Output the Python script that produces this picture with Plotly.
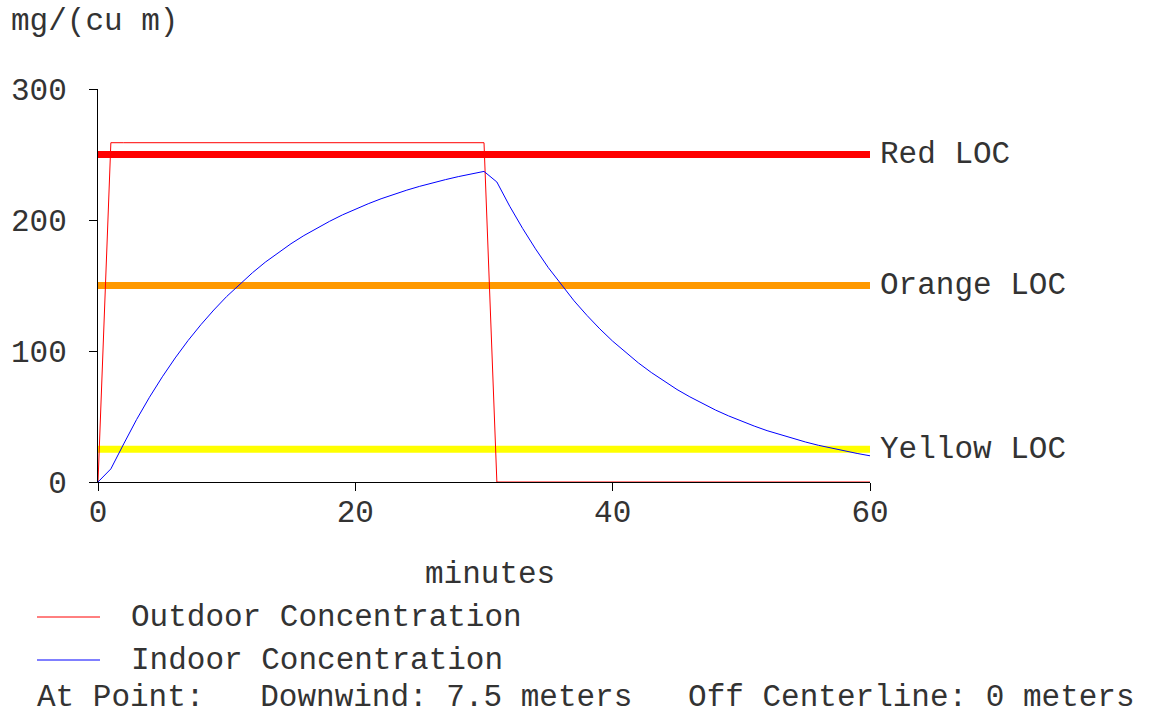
import plotly.graph_objects as go

# ---- data ----
minutes = list(range(0, 61))
outdoor = [0] + [259] * 30 + [0] * 30
indoor = [0, 10, 29.1, 47.7, 64.7, 80.3, 94.7, 108.0, 120.1, 131.3, 141.6,
          151.0, 159.7, 167.8, 175.1, 181.9, 188.1, 193.8, 199.0, 203.9, 208.3,
          212.4, 216.2, 219.6, 222.8, 225.7, 228.4, 230.8, 233.1, 235.2, 237.1,
          229.0, 210.5, 193.6, 178.0, 163.6, 150.5, 138.3, 127.2, 116.9, 107.5,
          98.9, 90.9, 83.6, 76.8, 70.6, 65.0, 59.7, 54.9, 50.5, 46.4,
          42.7, 39.2, 36.1, 33.2, 30.5, 28.0, 25.8, 23.7, 21.8, 20.0]
loc_names = ["Red LOC", "Orange LOC", "Yellow LOC"]
loc_values = [250, 150, 25]
loc_colors = ["#ff0000", "#ff9900", "#ffff00"]
x_ticks = [0, 20, 40, 60]
y_ticks = [0, 100, 200, 300]
series_names = ["Outdoor Concentration", "Indoor Concentration"]
series_colors = ["#ff0000", "#0000ff"]

FONT = "Courier New, Liberation Mono, monospace"
FS = 31
TXT = "#333333"

W, H = 1152, 717
L, R, T, B = 98, 282, 89, 235
PW, PH = W - L - R, H - T - B

def px(x):
    return (x - L) / PW

def py(y):
    return (H - B - y) / PH

fig = go.Figure()

for name, val, col in zip(loc_names, loc_values, loc_colors):
    fig.add_trace(go.Scatter(x=[x_ticks[0], x_ticks[-1]], y=[val, val], mode="lines",
                             line=dict(color=col, width=7), hoverinfo="skip",
                             showlegend=False))

fig.add_trace(go.Scatter(x=minutes, y=outdoor, mode="lines", name=series_names[0],
                         line=dict(color=series_colors[0], width=1), showlegend=False))
fig.add_trace(go.Scatter(x=minutes, y=indoor, mode="lines", name=series_names[1],
                         line=dict(color=series_colors[1], width=1), showlegend=False))

annotations = []
for name, val in zip(loc_names, loc_values):
    annotations.append(dict(x=x_ticks[-1], y=val, xref="x", yref="y", text=name,
                            showarrow=False, xanchor="left", yanchor="middle",
                            xshift=8, font=dict(family=FONT, size=FS, color=TXT)))

annotations += [
    dict(x=px(9), y=py(22), xref="paper", yref="paper", text="mg/(cu m)",
         showarrow=False, xanchor="left", yanchor="middle",
         font=dict(family=FONT, size=FS, color=TXT)),
    dict(x=px(490), y=py(574), xref="paper", yref="paper", text="minutes",
         showarrow=False, xanchor="center", yanchor="middle",
         font=dict(family=FONT, size=FS, color=TXT)),
    dict(x=px(129), y=py(617), xref="paper", yref="paper", text=series_names[0],
         showarrow=False, xanchor="left", yanchor="middle",
         font=dict(family=FONT, size=FS, color=TXT)),
    dict(x=px(129), y=py(660), xref="paper", yref="paper", text=series_names[1],
         showarrow=False, xanchor="left", yanchor="middle",
         font=dict(family=FONT, size=FS, color=TXT)),
    dict(x=px(35), y=py(717), xref="paper", yref="paper",
         text="At Point:&nbsp;&nbsp;&nbsp;Downwind: 7.5 meters&nbsp;&nbsp;&nbsp;Off Centerline: 0 meters",
         showarrow=False, xanchor="left", yanchor="bottom",
         font=dict(family=FONT, size=FS, color=TXT)),
]

shapes = [
    dict(type="line", xref="paper", yref="paper", x0=px(37), x1=px(100),
         y0=py(617), y1=py(617), line=dict(color=series_colors[0], width=1)),
    dict(type="line", xref="paper", yref="paper", x0=px(37), x1=px(100),
         y0=py(660), y1=py(660), line=dict(color=series_colors[1], width=1)),
]

axis_common = dict(showgrid=False, zeroline=False, showline=True, linecolor="black",
                   linewidth=1, ticks="outside", ticklen=8, tickcolor="black",
                   tickwidth=1, tickfont=dict(family=FONT, size=FS, color=TXT))

fig.update_layout(
    width=W, height=H, autosize=False,
    margin=dict(l=L, r=R, t=T, b=B, pad=0),
    plot_bgcolor="white", paper_bgcolor="white",
    xaxis=dict(range=[0, 60], tickvals=x_ticks, ticklabelstandoff=-6, **axis_common),
    yaxis=dict(range=[0, 300], tickvals=y_ticks, ticklabelstandoff=16, **axis_common),
    annotations=annotations, shapes=shapes, showlegend=False,
)

fig.write_html("out.html")
